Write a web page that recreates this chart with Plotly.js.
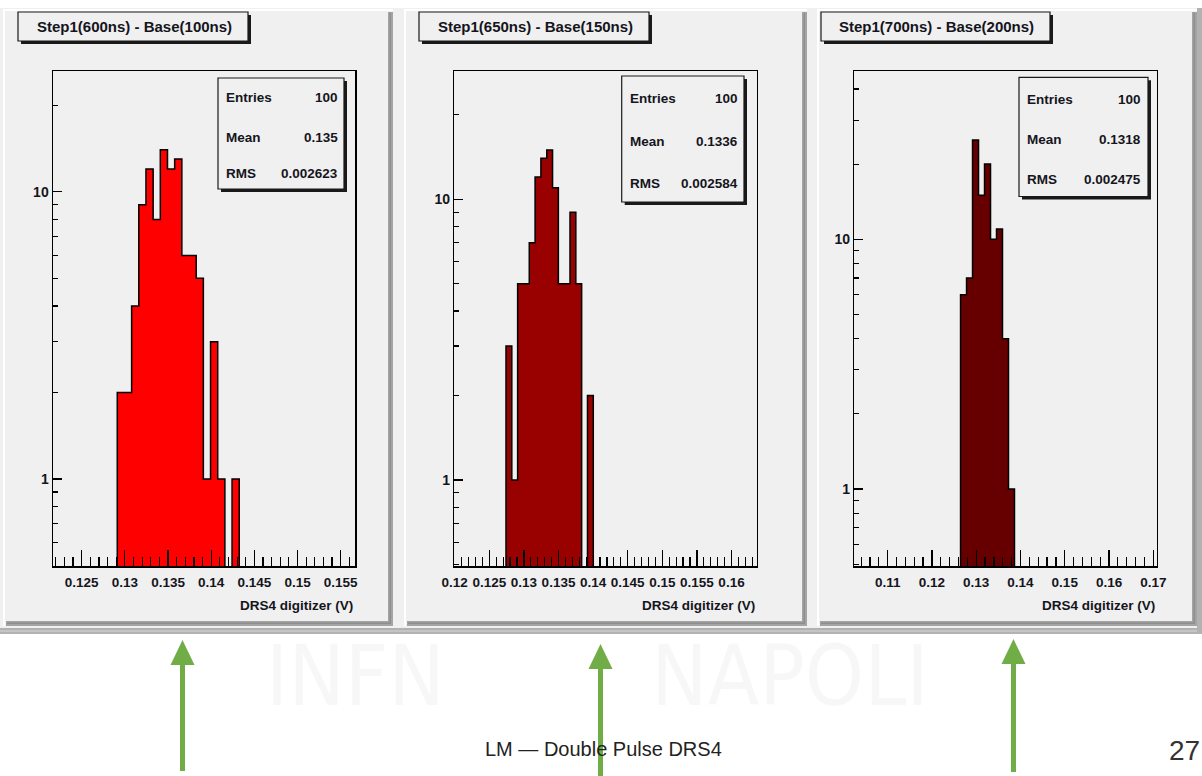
<!DOCTYPE html>
<html><head><meta charset="utf-8">
<script src="https://cdn.plot.ly/plotly-3.0.1.min.js"></script>
<style>html,body{margin:0;padding:0;background:#fff}#chart{width:1202px;height:776px}</style>
</head><body><div id="chart"></div>
<script>
// ---------------- data ----------------
const panelTitles = ["Step1(600ns) - Base(100ns)", "Step1(650ns) - Base(150ns)", "Step1(700ns) - Base(200ns)"];
const binStart = [0.12912, 0.12741, 0.12646];
const binWidth = [0.000831, 0.000841, 0.001354];
const counts1 = [2, 2, 4, 9, 12, 8, 14, 12, 13, 6, 6, 5, 1, 3, 1, 0, 1];
const counts2 = [3, 1, 5, 5, 7, 12, 14, 15, 11, 5, 5, 9, 5, 0, 2];
const counts3 = [6, 7, 25, 15, 20, 10, 11, 4, 1];
const statLabels = ["Entries", "Mean", "RMS"];
const stats1 = ["100", "0.135", "0.002623"];
const stats2 = ["100", "0.1336", "0.002584"];
const stats3 = ["100", "0.1318", "0.002475"];
const xRange1 = [0.121676, 0.156656];
const xRange2 = [0.11994, 0.16364];
const xRange3 = [0.10246, 0.17077];
const yRange1 = [0.4977, 26.3];
const yRange2 = [0.4937, 28.65];
const yRange3 = [0.4914, 47.2];
const xTickVals1 = [0.125, 0.13, 0.135, 0.14, 0.145, 0.15, 0.155];
const xTickText1 = ["0.125", "0.13", "0.135", "0.14", "0.145", "0.15", "0.155"];
const xTickVals2 = [0.12, 0.125, 0.13, 0.135, 0.14, 0.145, 0.15, 0.155, 0.16];
const xTickText2 = ["0.12", "0.125", "0.13", "0.135", "0.14", "0.145", "0.15", "0.155", "0.16"];
const xTickVals3 = [0.11, 0.12, 0.13, 0.14, 0.15, 0.16, 0.17];
const xTickText3 = ["0.11", "0.12", "0.13", "0.14", "0.15", "0.16", "0.17"];
const xMinorStep = [0.001, 0.001, 0.002];
const yTickVals = [1, 10];
const yTickText = ["1", "10"];
const yMinorVals = [0.5, 0.6, 0.7, 0.8, 0.9, 2, 3, 4, 5, 6, 7, 8, 9, 20, 30, 40];
const xAxisTitle = "DRS4 digitizer (V)";
const fillColors = ["#ff0000", "#990000", "#660000"];
const footerText = "LM \u2014 Double Pulse DRS4";
const pageNumber = "27";
const watermarkWords = ["INFN", "NAPOLI"];

// ---------------- layout helpers ----------------
const W = 1202, H = 776;
const fx = v => v / W, fy = v => 1 - v / H;
const FONT = "Liberation Sans, Arial, Helvetica, sans-serif";
const TXT = "#151520";
const PADBG = "#f0f0f0";

const counts = [counts1, counts2, counts3];
const stats = [stats1, stats2, stats3];
const xRanges = [xRange1, xRange2, xRange3];
const yRanges = [yRange1, yRange2, yRange3];
const xTickVals = [xTickVals1, xTickVals2, xTickVals3];
const xTickText = [xTickText1, xTickText2, xTickText3];

const frames = [{x0: 53, x1: 355}, {x0: 454.3, x1: 756.7}, {x0: 854.3, x1: 1156.7}];
const frameTop = 71, frameBottom = 566;
const pads = [{x0: 3, x1: 393}, {x0: 404, x1: 807}, {x0: 817, x1: 1197}];
const padTop = 9, padBottom = 626;
const titleBoxes = [{x0: 18, x1: 248}, {x0: 419, x1: 649}, {x0: 821, x1: 1050}];
const statBoxes = [
  {x0: 218, x1: 344, y0: 78, y1: 189, tl: 224, tr: 340, rows: [97.7, 137, 173.7]},
  {x0: 621.7, x1: 744, y0: 76, y1: 202, tl: 627.7, tr: 740, rows: [98, 141.7, 183.3]},
  {x0: 1019, x1: 1148, y0: 77.3, y1: 196.5, tl: 1025, tr: 1143.3, rows: [99, 139.3, 179]}
];

function minorTicks(range, step, majors) {
  const out = [];
  const k0 = Math.ceil(range[0] / step - 1e-6), k1 = Math.floor(range[1] / step + 1e-6);
  for (let k = k0; k <= k1; k++) {
    const v = +(k * step).toFixed(6);
    if (!majors.some(m => Math.abs(m - v) < step / 10)) out.push(v);
  }
  return out;
}

function stepPolygon(start, w, c, floor) {
  const xs = [start], ys = [floor];
  c.forEach((n, i) => {
    const v = n > 0 ? n : floor;
    xs.push(start + i * w, start + (i + 1) * w);
    ys.push(v, v);
  });
  xs.push(start + c.length * w); ys.push(floor);
  return {xs, ys};
}

const data = [];
const layout = {
  width: W, height: H, margin: {l: 0, r: 0, t: 0, b: 0},
  paper_bgcolor: "#ffffff", plot_bgcolor: "rgba(0,0,0,0)",
  showlegend: false, shapes: [], annotations: []
};

function rect(x0, y0, x1, y1, fill, line, layer) {
  layout.shapes.push({type: "rect", xref: "paper", yref: "paper", layer: layer || "below",
    x0: fx(x0), x1: fx(x1), y0: fy(y1), y1: fy(y0), fillcolor: fill,
    line: line ? {color: line.color, width: line.width} : {width: 0}});
}
function text(t, x, y, opts) {
  layout.annotations.push(Object.assign({text: t, xref: "paper", yref: "paper", x: fx(x), y: fy(y),
    showarrow: false, xanchor: "center", yanchor: "middle",
    font: {family: FONT, size: 14, color: TXT, weight: "bold"}}, opts || {}));
}

// canvas background
rect(0, 8, 1202, 634, PADBG);
rect(0, 628, 1202, 634, "#b2b2b2");
rect(0, 630.5, 1202, 631.5, "#d6d6d6");
rect(1197, 8, 1202, 634, "#b2b2b2");

for (let i = 0; i < 3; i++) {
  const p = pads[i];
  // pad with bevel
  rect(p.x0, padTop, p.x1, padBottom, PADBG);
  rect(p.x0, padTop, p.x1, padTop + 2, "#ffffff");
  rect(p.x0, padTop, p.x0 + 2, padBottom, "#ffffff");
  rect(p.x1 - 5, padTop + 3, p.x1, padBottom, "#a4a4a4");
  rect(p.x0 + 3, padBottom - 5, p.x1, padBottom, "#a4a4a4");
  rect(p.x1 - 3.5, padTop + 4, p.x1 - 2, padBottom - 2, "#8e8e8e");
  rect(p.x0 + 4, padBottom - 3.5, p.x1 - 2, padBottom - 2, "#8e8e8e");

  // title box
  const tb = titleBoxes[i];
  rect(tb.x0 + 3, 15, tb.x1 + 3, 44, "#1a1a1a");
  rect(tb.x0, 12, tb.x1, 41, PADBG, {color: "#1a1a1a", width: 1.2});
  text(panelTitles[i], (tb.x0 + tb.x1) / 2 + 1, 27, {font: {family: FONT, size: 15, color: TXT, weight: "bold"}});

  // stat box
  const sb = statBoxes[i];
  rect(sb.x0 + 3, sb.y0 + 3, sb.x1 + 3, sb.y1 + 3, "#1a1a1a");
  rect(sb.x0, sb.y0, sb.x1, sb.y1, PADBG, {color: "#1a1a1a", width: 1.2});
  statLabels.forEach((lab, r) => {
    text(lab, sb.tl, sb.rows[r], {xanchor: "left", font: {family: FONT, size: 13.5, color: TXT, weight: "bold"}});
    text(stats[i][r], sb.tr, sb.rows[r], {xanchor: "right", font: {family: FONT, size: 13.5, color: TXT, weight: "bold"}});
  });

  // axis title
  text(xAxisTitle, frames[i].x1, 605, {xanchor: "right", font: {family: FONT, size: 13.5, color: TXT, weight: "bold"}});

  // histogram
  const sfx = i === 0 ? "" : String(i + 1);
  const poly = stepPolygon(binStart[i], binWidth[i], counts[i], 1e-3);
  data.push({type: "scatter", mode: "lines", x: poly.xs, y: poly.ys, xaxis: "x" + sfx, yaxis: "y" + sfx,
    fill: "toself", fillcolor: fillColors[i], line: {color: "#000", width: 1.5, shape: "linear"},
    hoverinfo: "skip"});

  layout["xaxis" + sfx] = {
    domain: [fx(frames[i].x0), fx(frames[i].x1)], range: xRanges[i], anchor: "y" + sfx,
    showline: true, mirror: true, linecolor: "#000", linewidth: 1.5,
    ticks: "inside", ticklen: 16, tickwidth: 1.2, tickcolor: "#000",
    tickmode: "array", tickvals: xTickVals[i], ticktext: xTickText[i],
    tickfont: {family: FONT, size: 13.5, color: TXT, weight: "bold"}, ticklabelstandoff: 3,
    minor: {tickmode: "array", tickvals: minorTicks(xRanges[i], xMinorStep[i], xTickVals[i]),
      ticks: "inside", ticklen: 9, tickwidth: 1.2, tickcolor: "#000", showgrid: false},
    showgrid: false, zeroline: false, fixedrange: true
  };
  layout["yaxis" + sfx] = {
    type: "log", domain: [fy(frameBottom), fy(frameTop)],
    range: [Math.log10(yRanges[i][0]), Math.log10(yRanges[i][1])], anchor: "x" + sfx,
    showline: true, mirror: true, linecolor: "#000", linewidth: 1.5,
    ticks: "inside", ticklen: 9, tickwidth: 1.2, tickcolor: "#000",
    tickmode: "array", tickvals: yTickVals, ticktext: yTickText,
    tickfont: {family: FONT, size: 14, color: TXT, weight: "bold"}, ticklabelstandoff: 0,
    minor: {tickmode: "array", tickvals: yMinorVals.filter(v => v > yRanges[i][0] * 1.01 && v < yRanges[i][1]),
      ticks: "inside", ticklen: 5, tickwidth: 1.2, tickcolor: "#000", showgrid: false},
    showgrid: false, zeroline: false, fixedrange: true
  };
}

// watermark (very faint, as on the slide background), kept in the gap under the canvas
const WMFONT = {family: "DejaVu Sans Condensed, DejaVu Sans, sans-serif", size: 84, color: "rgba(0,0,0,0.03)", weight: "normal"};
text(watermarkWords[0], 355, 676, {font: WMFONT});
text(watermarkWords[1], 790, 676, {font: WMFONT});

// footer
text(footerText, 603, 749, {font: {family: FONT, size: 20, color: "#222", weight: "normal"}});
text(pageNumber, 1184, 750, {font: {family: FONT, size: 28, color: "#333", weight: "normal"}});

// green arrows
const arrows = [{x: 182.5, tip: 640, bottom: 771}, {x: 600.5, tip: 644, bottom: 777}, {x: 1013.5, tip: 639, bottom: 772}];
const GREEN = "#70ad47";
arrows.forEach(a => {
  layout.shapes.push({type: "line", xref: "paper", yref: "paper", layer: "above",
    x0: fx(a.x), x1: fx(a.x), y0: fy(a.bottom), y1: fy(a.tip + 20), line: {color: GREEN, width: 5}});
  layout.shapes.push({type: "path", xref: "paper", yref: "paper", layer: "above",
    path: `M ${fx(a.x - 12)},${fy(a.tip + 25)} L ${fx(a.x)},${fy(a.tip)} L ${fx(a.x + 12)},${fy(a.tip + 25)} Z`,
    fillcolor: GREEN, line: {width: 0}});
});

Plotly.newPlot("chart", data, layout, {staticPlot: true, displayModeBar: false});
</script>
</body></html>
